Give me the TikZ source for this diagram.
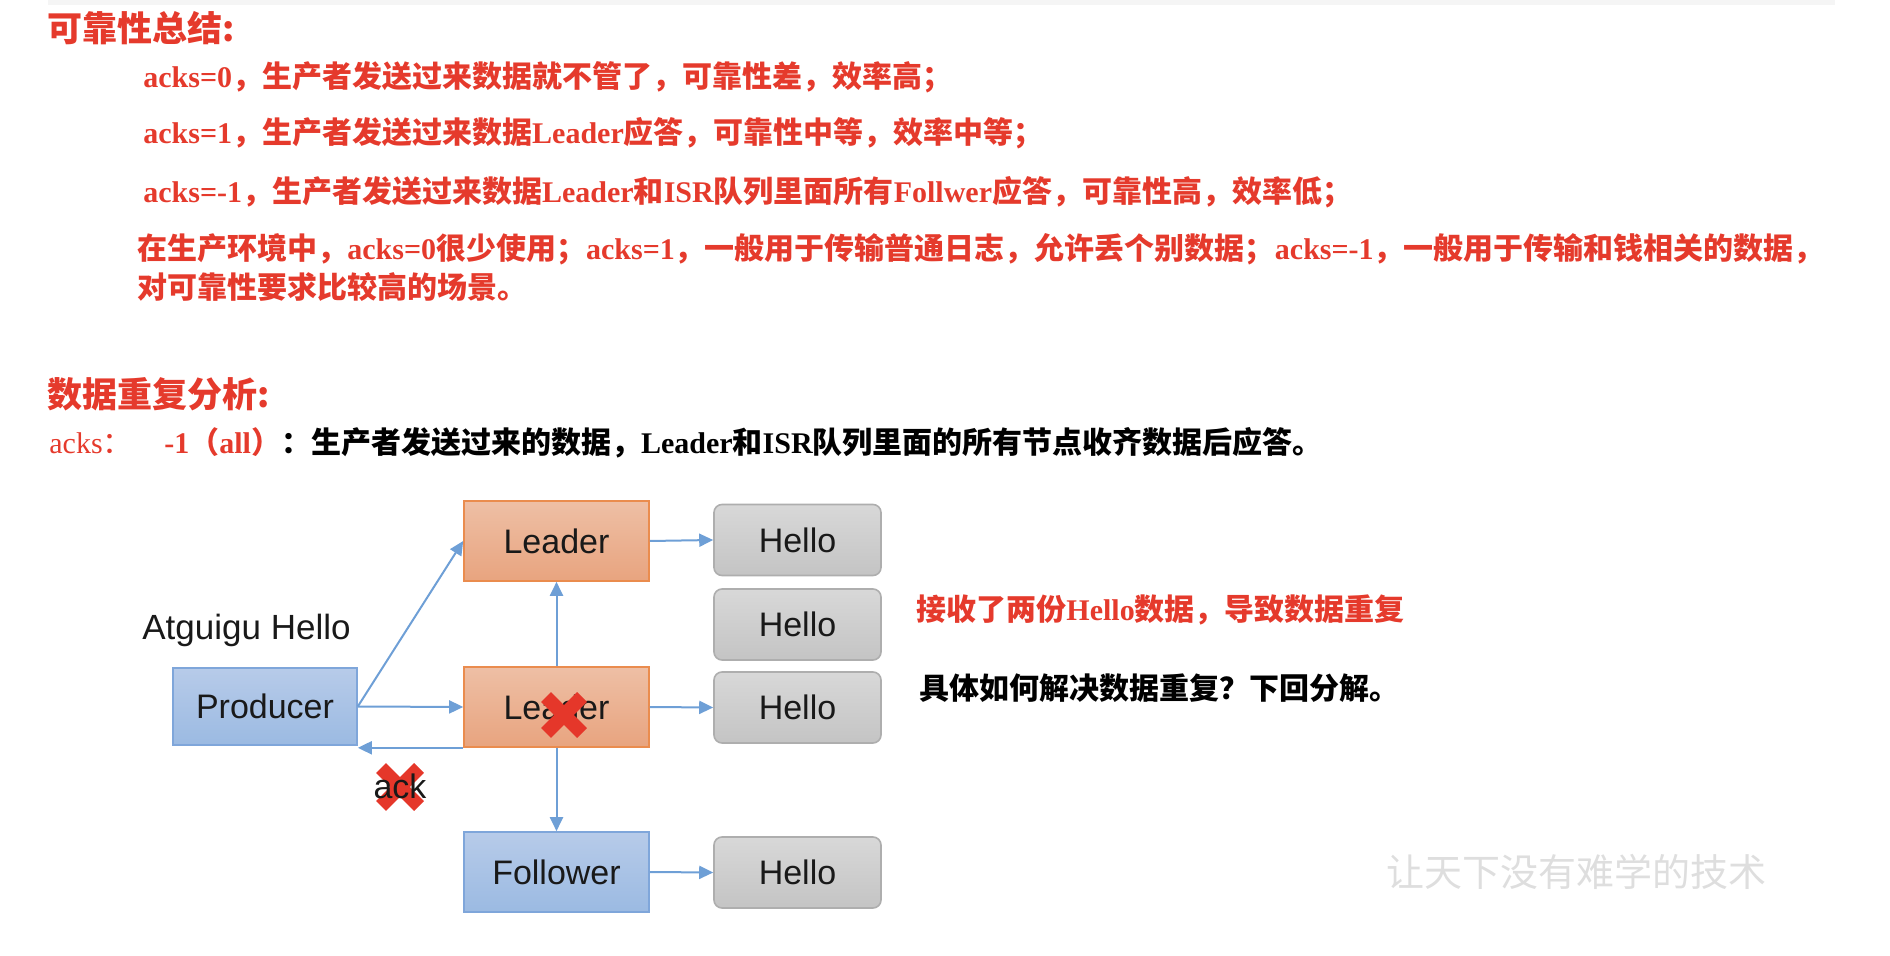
\documentclass[tikz,border=0pt]{standalone}
\usepackage{fontspec}
\setmainfont{Liberation Serif}
\newfontfamily\hel{Liberation Sans}
\newfontfamily\cjk{Noto Sans CJK SC}
\usetikzlibrary{arrows.meta,calc}
\definecolor{tred}{HTML}{E53A2C}
\definecolor{xred}{HTML}{E5372A}
\definecolor{arrowblue}{HTML}{6E9FD6}
\definecolor{bluetop}{HTML}{B7CBE9}
\definecolor{bluebot}{HTML}{9BBAE2}
\definecolor{blueline}{HTML}{7FA6DA}
\definecolor{orangetop}{HTML}{EEBFA5}
\definecolor{orangebot}{HTML}{E8A47F}
\definecolor{orangeline}{HTML}{EA8C4E}
\definecolor{graytop}{HTML}{D8D8D8}
\definecolor{graybot}{HTML}{C4C4C4}
\definecolor{grayline}{HTML}{AEAEAE}
\newcommand\zh[1]{{\cjk #1}}
\tikzset{
  txt/.style={anchor=west, inner sep=0pt, text=tred, font=\bfseries\fontsize{15pt}{18pt}\selectfont},
  heading/.style={anchor=west, inner sep=0pt, text=tred, font=\cjk\bfseries\fontsize{17.5pt}{20pt}\selectfont},
  box/.style={inner sep=0pt, minimum width=92.5pt, minimum height=40pt, line width=0.8pt, text=black!90, font=\hel\fontsize{17pt}{20pt}\selectfont},
  bluebox/.style={box, draw=blueline, top color=bluetop, bottom color=bluebot},
  orangebox/.style={box, draw=orangeline, top color=orangetop, bottom color=orangebot},
  hellobox/.style={box, minimum width=83.5pt, minimum height=35.5pt, rounded corners=4pt, draw=grayline, top color=graytop, bottom color=graybot},
  flow/.style={draw=arrowblue, line width=1pt, -{Triangle[length=7pt, width=6.5pt]}},
  xmark/.style={draw=xred, line width=7pt, line cap=butt},
}
\begin{document}
\begin{tikzpicture}[x=0.5pt, y=-0.5pt]
\useasboundingbox (0,0) rectangle (1890,956);
\draw[draw=black!4, line width=2.5pt] (48,3) -- (1835,3);

% reliability summary
\node[heading] (t1) at (47,28) {可靠性总结:};
\node[txt] (l1) at (143,77) {acks=0\zh{，生产者发送过来数据就不管了，可靠性差，效率高；}};
\node[txt] (l2) at (143,133) {acks=1\zh{，生产者发送过来数据}Leader\zh{应答，可靠性中等，效率中等；}};
\node[txt] (l3) at (143,192) {acks=-1\zh{，生产者发送过来数据}Leader\zh{和}ISR\zh{队列里面所有}Follwer\zh{应答，可靠性高，效率低；}};
\node[txt] (l4) at (137,249) {\zh{在生产环境中，}acks=0\zh{很少使用；}acks=1\zh{，一般用于传输普通日志，允许丢个别数据；}acks=-1\zh{，一般用于传输和钱相关的数据，}};
\node[txt] (l5) at (137,287) {\zh{对可靠性要求比较高的场景。}};

% duplicate analysis
\node[heading] (t2) at (47,394) {数据重复分析:};
\node[txt, font=\fontsize{15pt}{18pt}\selectfont] (a0) at (49,443) {acks\zh{：}};
\node[txt] (a1) at (164,443) {-1\zh{（}all\zh{）}\textcolor{black}{\zh{：生产者发送过来的数据，}Leader\zh{和}ISR\zh{队列里面的所有节点收齐数据后应答。}}};

% diagram
\node[anchor=west, inner sep=0pt, font=\hel\fontsize{17.5pt}{20pt}\selectfont, text=black!90] (atg) at (142,630) {Atguigu Hello};
\node[bluebox, minimum width=92pt, minimum height=38.5pt] (prod) at (265,706.5) {Producer};
\node[orangebox] (lead1) at (556.5,541) {Leader};
\node[orangebox] (lead2) at (556.5,707) {Leader};
\node[bluebox] (foll) at (556.5,872) {Follower};
\node[hellobox] (h1) at (797.5,540) {Hello};
\node[hellobox] (h2) at (797.5,624.5) {Hello};
\node[hellobox] (h3) at (797.5,707.5) {Hello};
\node[hellobox] (h4) at (797.5,872.5) {Hello};

\draw[flow] (prod.east) -- (lead1.west);
\draw[flow] (prod.east) -- (lead2.west);
\draw[flow] (lead2.south west) -- (lead2.south west -| prod.east);
\draw[flow] (lead2.north) -- (lead1.south);
\draw[flow] (lead2.south) -- (foll.north);
\draw[flow] (lead1.east) -- (h1.west);
\draw[flow] (lead2.east) -- (h3.west);
\draw[flow] (foll.east) -- (h4.west);

% red crosses
\coordinate (x1) at (564,715);
\coordinate (x2) at (400,787);
\draw[xmark] ($(x1)+(-18,-18)$) -- ($(x1)+(18,18)$);
\draw[xmark] ($(x1)+(-18,18)$) -- ($(x1)+(18,-18)$);
\draw[xmark] ($(x2)+(-19,-19)$) -- ($(x2)+(19,19)$);
\draw[xmark] ($(x2)+(-19,19)$) -- ($(x2)+(19,-19)$);
\node[inner sep=0pt, font=\hel\fontsize{17pt}{20pt}\selectfont, text=black!90] (ack) at (400,786) {ack};

% notes
\node[txt] (n1) at (916,610) {\zh{接收了两份}Hello\zh{数据，导致数据重复}};
\node[txt, text=black] (n2) at (919,688) {\zh{具体如何解决数据重复？下回分解。}};
\node[anchor=west, inner sep=0pt, text=black!13, font=\cjk\fontsize{19pt}{20pt}\selectfont] (wm) at (1386,872) {让天下没有难学的技术};
\end{tikzpicture}
\end{document}
